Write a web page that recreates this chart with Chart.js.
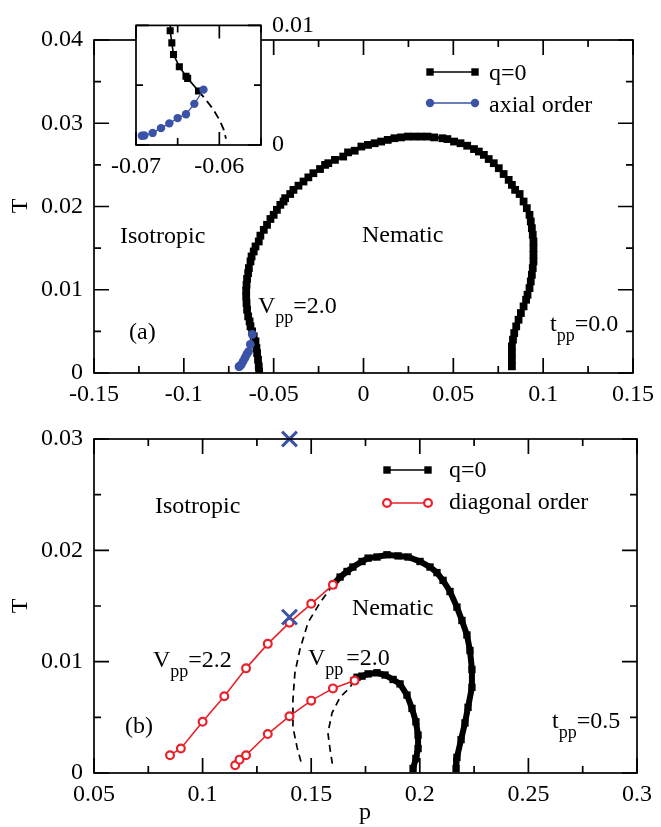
<!DOCTYPE html>
<html><head><meta charset="utf-8">
<script src="https://cdn.jsdelivr.net/npm/chart.js@4/dist/chart.umd.min.js"></script>
<style>
html,body{margin:0;padding:0;background:#fff;}
#wrap{position:relative;width:661px;height:827px;overflow:hidden;}
canvas{position:absolute;}
</style></head><body>
<div id="wrap">
<canvas id="ca" style="left:0;top:0" width="661" height="410"></canvas>
<canvas id="ci" style="left:100px;top:0" width="220" height="185"></canvas>
<canvas id="cb" style="left:0;top:410px" width="661" height="417"></canvas>
</div>
<script>
// ---------- Panel (a) data ----------
const aQ0_p = [-0.0581,-0.0583,-0.0587,-0.0592,-0.0596,-0.0601,-0.0611,-0.0620,-0.0629,-0.0634,-0.0642,-0.0648,-0.0651,-0.0653,-0.0653,-0.0651,-0.0648,-0.0642,-0.0638,-0.0629,-0.0623,-0.0611,-0.0601,-0.0583,-0.0574,-0.0555,-0.0537,-0.0518,-0.0500,-0.0482,-0.0463,-0.0445,-0.0436,-0.0408,-0.0390,-0.0362,-0.0334,-0.0307,-0.0279,-0.0242,-0.0214,-0.0196,
  -0.0159,-0.0113,-0.0086,-0.0049,-0.0012,0.0025,0.0062,0.0098,0.0135,0.0172,0.0209,0.0246,0.0283,0.0319,0.0356,0.0393,0.0439,0.0467,0.0504,0.0540,0.0577,0.0615,0.0642,0.0670,0.0697,0.0725,0.0753,0.0780,0.0808,0.0826,0.0844,0.0869,
  0.0891,0.0909,0.0924,0.0931,0.0937,0.0942,0.0946,0.0946,0.0946,0.0946,0.0942,0.0937,0.0931,0.0924,0.0913,0.0905,0.0891,0.0876,0.0863,0.0850,0.0839,0.0832,0.0826,0.0826,0.0826,0.0826];
const aQ0_T = [0.0002,0.0008,0.0016,0.0024,0.0030,0.0038,0.0044,0.0050,0.0056,0.0062,0.0068,0.0076,0.0084,0.0092,0.0099,0.0106,0.0113,0.0120,0.0126,0.0134,0.0140,0.0146,0.0152,0.0158,0.0165,0.0172,0.0178,0.0185,0.0190,0.0196,0.0202,0.0206,0.0210,0.0215,0.0220,0.0225,0.0230,0.0235,0.0240,0.0245,0.0250,0.0252,
  0.0256,0.0260,0.0265,0.0267,0.0272,0.0274,0.0276,0.0278,0.0280,0.0282,0.0283,0.0284,0.0284,0.0284,0.0284,0.0283,0.0282,0.0281,0.0278,0.0276,0.0273,0.0269,0.0266,0.0262,0.0257,0.0252,0.0246,0.0239,0.0232,0.0226,0.0220,0.0215,
  0.0206,0.0198,0.0190,0.0182,0.0174,0.0166,0.0158,0.0150,0.0142,0.0134,0.0126,0.0118,0.0110,0.0102,0.0094,0.0088,0.0080,0.0072,0.0064,0.0056,0.0048,0.0040,0.0032,0.0024,0.0016,0.0008];
const axial_p = [-0.0693,-0.0690,-0.0680,-0.0670,-0.0660,-0.0650,-0.0640,-0.0630,-0.0619];
const axial_T = [0.00077,0.00079,0.00101,0.00141,0.00181,0.00225,0.00257,0.00344,0.00463];
// inset (zoom of panel a)
const insQ0_p = [-0.0658,-0.0659,-0.0657,-0.0655,-0.0648,-0.0640,-0.0638,-0.0625];
const insQ0_T = [0.0108,0.00955,0.00854,0.00756,0.00655,0.00575,0.00557,0.00451];
const insDash_p = [-0.0625,-0.0619,-0.0608,-0.0600,-0.0595,-0.0592];
const insDash_T = [0.00451,0.00403,0.00305,0.00212,0.00133,0.00053];
// ---------- Panel (b) data ----------
const bQ0out_p = [0.1600,0.1633,0.1665,0.1692,0.1734,0.1762,0.1803,0.1849,0.1900,0.1946,0.2001,0.2047,0.2079,0.2107,0.2139,0.2171,0.2194,0.2217,0.2231,0.2240,0.2240,0.2222,0.2208,0.2190,0.2171,0.2167];
const bQ0out_T = [0.0169,0.0176,0.0181,0.0185,0.0190,0.0193,0.0194,0.0196,0.0195,0.0194,0.0190,0.0185,0.0180,0.0173,0.0163,0.0149,0.0137,0.0124,0.0110,0.0093,0.0077,0.0059,0.0045,0.0030,0.0014,0.0004];
const bQ0in_p = [0.1697,0.1711,0.1734,0.1762,0.1803,0.1840,0.1877,0.1909,0.1941,0.1964,0.1982,0.1992,0.1992,0.1982,0.1969];
const bQ0in_T = [0.0083,0.0086,0.0087,0.0089,0.0090,0.0088,0.0084,0.0080,0.0070,0.0058,0.0046,0.0034,0.0022,0.0013,0.0004];
const diag22_p = [0.085,0.090,0.100,0.110,0.120,0.130,0.140,0.150,0.160];
const diag22_T = [0.0016,0.0022,0.0046,0.0069,0.0094,0.0116,0.0135,0.0152,0.0169];
const diag20_p = [0.115,0.117,0.120,0.130,0.140,0.150,0.160,0.170];
const diag20_T = [0.0007,0.0012,0.0016,0.0035,0.0051,0.0065,0.0076,0.0083];
const dash22_p = [0.1600,0.1541,0.1485,0.1448,0.1425,0.1416,0.1416,0.1435,0.1453];
const dash22_T = [0.0169,0.0153,0.0135,0.0111,0.0090,0.0066,0.0041,0.0023,0.0010];
const dash20_p = [0.1697,0.1679,0.1633,0.1596,0.1577,0.1587,0.1600];
const dash20_T = [0.0083,0.0077,0.0068,0.0054,0.0036,0.0021,0.0005];
const cross_p = [0.14,0.14];
const cross_T = [0.030,0.014];
// ---------- tick labels ----------
const aXTicks = [-0.15,-0.1,-0.05,0,0.05,0.1,0.15];
const aYTicks = [0,0.01,0.02,0.03,0.04];
const aXMinor = [-0.125,-0.075,-0.025,0.025,0.075,0.125];
const aYMinor = [0.005,0.015,0.025,0.035];
const iXTicks = [-0.07,-0.06];
const iYTicks = [0,0.01];
const iXMinor = [-0.065,-0.055];
const iYMinor = [0.005];
const bXTicks = [0.05,0.1,0.15,0.2,0.25,0.3];
const bYTicks = [0,0.01,0.02,0.03];
const bXMinor = [0.075,0.125,0.175,0.225,0.275];
const bYMinor = [0.005,0.015,0.025];

const BLUE = '#3a53a6', RED = '#e8222a', BLACK = '#000';
const FONT = '"Liberation Serif","Times New Roman",serif';
const pts = (xs, ys) => xs.map((x, i) => ({x, y: ys[i]}));
const fmt = v => String(Math.round(v * 1000) / 1000);

function axis(min, max, ticks, pad, fitKey, fitVal, pos) {
  const o = {
    type: 'linear', min, max,
    afterBuildTicks: s => { s.ticks = ticks.map(v => ({value: v})); },
    afterFit: s => { s[fitKey] = fitVal; },
    grid: {display: false, drawTicks: false},
    border: {display: false},
    ticks: {padding: pad, color: '#000', font: {family: FONT, size: 24}, callback: v => fmt(v), autoSkip: false, maxRotation: 0}
  };
  if (pos) o.position = pos;
  return o;
}

function drawRuns(c, x, y, runs) {
  let cx = x;
  runs.forEach(r => {
    c.font = (r.s || 24) + 'px ' + FONT;
    c.fillText(r.t, cx, y + (r.dy || 0));
    cx += c.measureText(r.t).width + (r.gap || 0);
  });
}

function makePlugin(cfg) {
  return {
    id: 'frame',
    beforeDraw(chart) {
      if (!cfg.white) return;
      const a = chart.chartArea, c = chart.ctx;
      c.save(); c.fillStyle = '#fff';
      c.fillRect(a.left, a.top, a.right - a.left, a.bottom - a.top);
      c.restore();
    },
    afterDraw(chart) {
      const c = chart.ctx, a = chart.chartArea, xs = chart.scales.x, ys = chart.scales.y;
      c.save();
      c.strokeStyle = '#000'; c.lineWidth = 1.7;
      c.beginPath();
      const tx = (vals, len) => vals.forEach(v => {
        const px = xs.getPixelForValue(v);
        c.moveTo(px, a.bottom); c.lineTo(px, a.bottom - len);
        c.moveTo(px, a.top); c.lineTo(px, a.top + len);
      });
      const ty = (vals, len) => vals.forEach(v => {
        const py = ys.getPixelForValue(v);
        c.moveTo(a.left, py); c.lineTo(a.left + len, py);
        c.moveTo(a.right, py); c.lineTo(a.right - len, py);
      });
      tx(cfg.xMajor, cfg.maj); tx(cfg.xMinor, cfg.min);
      ty(cfg.yMajor, cfg.maj); ty(cfg.yMinor, cfg.min);
      c.stroke();
      c.strokeRect(a.left, a.top, a.right - a.left, a.bottom - a.top);
      c.fillStyle = '#000'; c.textBaseline = 'alphabetic'; c.textAlign = 'left';
      (cfg.texts || []).forEach(t => drawRuns(c, t.x, t.y, t.runs));
      (cfg.legend || []).forEach(l => {
        c.strokeStyle = l.color; c.lineWidth = 1.5;
        c.beginPath(); c.moveTo(l.x1, l.y); c.lineTo(l.x2, l.y); c.stroke();
        [l.x1, l.x2].forEach(px => {
          if (l.mark === 'rect') { c.fillStyle = l.color; c.fillRect(px - 3.7, l.y - 3.7, 7.4, 7.4); }
          else if (l.mark === 'dot') { c.fillStyle = l.color; c.beginPath(); c.arc(px, l.y, 4.2, 0, Math.PI * 2); c.fill(); }
          else { c.fillStyle = '#fff'; c.lineWidth = 2.2; c.beginPath(); c.arc(px, l.y, 3.9, 0, Math.PI * 2); c.fill(); c.stroke(); }
        });
        c.fillStyle = '#000'; c.font = '24px ' + FONT;
        c.fillText(l.label, l.tx, l.ty);
      });
      if (cfg.yTitle) {
        c.save(); c.translate(cfg.yTitle.x, cfg.yTitle.y); c.rotate(-Math.PI / 2);
        c.textAlign = 'center'; c.textBaseline = 'middle'; c.font = '24px ' + FONT;
        c.fillText('T', 0, 0); c.restore();
      }
      if (cfg.xTitle) {
        c.textAlign = 'center'; c.font = '24px ' + FONT;
        c.fillText('p', cfg.xTitle.x, cfg.xTitle.y);
      }
      c.restore();
    }
  };
}

const common = {
  responsive: false, animation: false, events: [],
  plugins: {legend: {display: false}, tooltip: {enabled: false}}
};

// ---------- Chart (a) ----------
new Chart(document.getElementById('ca'), {
  type: 'scatter',
  data: {datasets: [
    {data: pts(axial_p, axial_T), showLine: true, borderColor: BLUE, borderWidth: 1.5, pointStyle: 'circle', pointRadius: 4.4, backgroundColor: BLUE, pointBorderWidth: 0, order: 0},
    {data: pts(aQ0_p, aQ0_T), showLine: true, borderColor: BLACK, borderWidth: 3, pointStyle: 'rect', pointRadius: 5.5, backgroundColor: BLACK, pointBorderWidth: 0, order: 1}
  ]},
  options: Object.assign({}, common, {
    layout: {padding: {left: 0, top: 40, right: 24, bottom: 0}},
    scales: {
      x: axis(-0.15, 0.15, aXTicks, 7, 'height', 37),
      y: axis(0, 0.04, aYTicks, 11, 'width', 94)
    }
  }),
  plugins: [makePlugin({
    xMajor: aXTicks, xMinor: aXMinor, yMajor: aYTicks, yMinor: aYMinor, maj: 15, min: 7,
    texts: [
      {x: 120, y: 243, runs: [{t: 'Isotropic'}]},
      {x: 362, y: 242, runs: [{t: 'Nematic'}]},
      {x: 258, y: 313, runs: [{t: 'V'}, {t: 'pp', s: 18, dy: 10}, {t: '=2.0'}]},
      {x: 129, y: 339, runs: [{t: '(a)'}]},
      {x: 550, y: 331, runs: [{t: 't'}, {t: 'pp', s: 18, dy: 10}, {t: '=0.0'}]}
    ],
    legend: [
      {x1: 430, x2: 475, y: 72, color: BLACK, mark: 'rect', label: 'q=0', tx: 489, ty: 80},
      {x1: 430, x2: 475, y: 103, color: BLUE, mark: 'dot', label: 'axial order', tx: 489, ty: 112}
    ],
    yTitle: {x: 21, y: 206}
  })]
});

// ---------- Inset ----------
new Chart(document.getElementById('ci'), {
  type: 'scatter',
  data: {datasets: [
    {data: pts(axial_p, axial_T), showLine: true, borderColor: BLUE, borderWidth: 1.3, pointStyle: 'circle', pointRadius: 4.2, backgroundColor: BLUE, pointBorderWidth: 0, order: 0},
    {data: pts(insQ0_p, insQ0_T), showLine: true, borderColor: BLACK, borderWidth: 1.6, pointStyle: 'rect', pointRadius: 5, backgroundColor: BLACK, pointBorderWidth: 0, order: 1},
    {data: pts(insDash_p, insDash_T), showLine: true, borderColor: BLACK, borderWidth: 1.8, borderDash: [8, 5], pointRadius: 0, order: 2}
  ]},
  options: Object.assign({}, common, {
    layout: {padding: {left: 36, top: 19, right: 0, bottom: 0}},
    scales: {
      x: axis(-0.07, -0.055, iXTicks, 7, 'height', 40),
      y: axis(0, 0.01, iYTicks, 11, 'width', 59, 'right')
    }
  }),
  plugins: [makePlugin({white: true, xMajor: iXTicks, xMinor: iXMinor, yMajor: iYTicks, yMinor: iYMinor, maj: 13, min: 7})]
});

// ---------- Chart (b) ----------
new Chart(document.getElementById('cb'), {
  type: 'scatter',
  data: {datasets: [
    {data: pts(cross_p, cross_T), showLine: false, pointStyle: 'crossRot', pointRadius: 10.5, borderColor: BLUE, pointBorderWidth: 3, clip: false, order: 0},
    {data: pts(diag22_p, diag22_T), showLine: true, borderColor: RED, borderWidth: 1.6, pointStyle: 'circle', pointRadius: 3.9, pointBorderWidth: 2.2, pointBorderColor: RED, backgroundColor: '#fff', order: 1},
    {data: pts(diag20_p, diag20_T), showLine: true, borderColor: RED, borderWidth: 1.6, pointStyle: 'circle', pointRadius: 3.9, pointBorderWidth: 2.2, pointBorderColor: RED, backgroundColor: '#fff', order: 1},
    {data: pts(bQ0out_p, bQ0out_T), showLine: true, borderColor: BLACK, borderWidth: 6, pointStyle: 'rect', pointRadius: 5.2, backgroundColor: BLACK, pointBorderWidth: 0, order: 2},
    {data: pts(bQ0in_p, bQ0in_T), showLine: true, borderColor: BLACK, borderWidth: 6, pointStyle: 'rect', pointRadius: 5.2, backgroundColor: BLACK, pointBorderWidth: 0, order: 2},
    {data: pts(dash22_p, dash22_T), showLine: true, borderColor: BLACK, borderWidth: 1.7, borderDash: [7, 5], pointRadius: 0, order: 3},
    {data: pts(dash20_p, dash20_T), showLine: true, borderColor: BLACK, borderWidth: 1.7, borderDash: [7, 5], pointRadius: 0, order: 3}
  ]},
  options: Object.assign({}, common, {
    layout: {padding: {left: 0, top: 29, right: 24, bottom: 0}},
    scales: {
      x: axis(0.05, 0.3, bXTicks, 7, 'height', 54),
      y: axis(0, 0.03, bYTicks, 11, 'width', 94)
    }
  }),
  plugins: [makePlugin({
    xMajor: bXTicks, xMinor: bXMinor, yMajor: bYTicks, yMinor: bYMinor, maj: 15, min: 7,
    texts: [
      {x: 155, y: 103, runs: [{t: 'Isotropic'}]},
      {x: 352, y: 205, runs: [{t: 'Nematic'}]},
      {x: 153, y: 257, runs: [{t: 'V'}, {t: 'pp', s: 18, dy: 10}, {t: '=2.2'}]},
      {x: 308, y: 255, runs: [{t: 'V'}, {t: 'pp', s: 18, dy: 10, gap: 3}, {t: '=2.0'}]},
      {x: 125, y: 323, runs: [{t: '(b)'}]},
      {x: 552, y: 318, runs: [{t: 't'}, {t: 'pp', s: 18, dy: 10}, {t: '=0.5'}]}
    ],
    legend: [
      {x1: 387, x2: 428, y: 60, color: BLACK, mark: 'rect', label: 'q=0', tx: 449, ty: 67},
      {x1: 387, x2: 428, y: 93, color: RED, mark: 'ring', label: 'diagonal order', tx: 449, ty: 99}
    ],
    yTitle: {x: 21, y: 196},
    xTitle: {x: 365, y: 409}
  })]
});
</script>
</body></html>
